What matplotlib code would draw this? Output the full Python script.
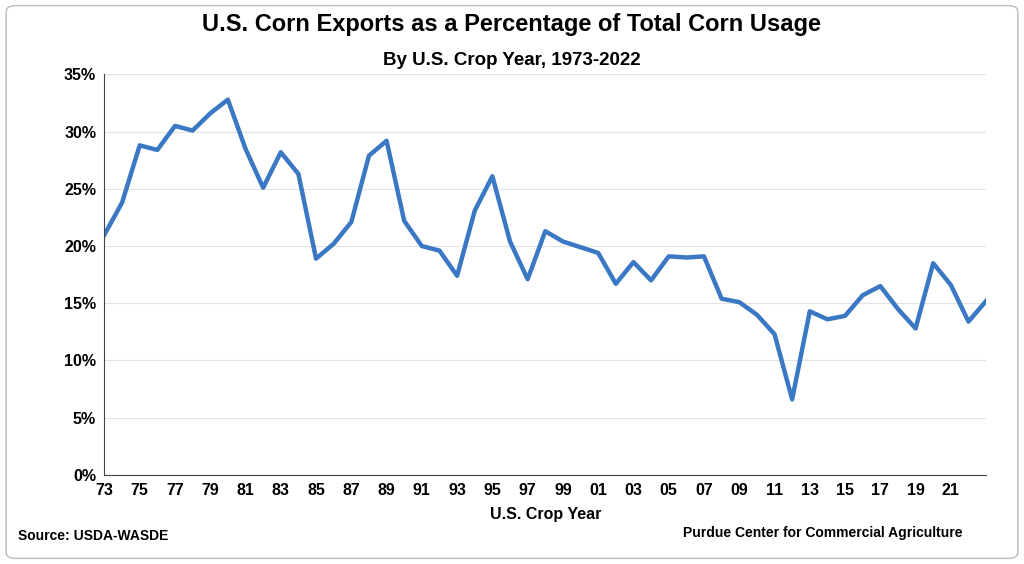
import matplotlib.pyplot as plt
import matplotlib.ticker as mtick
from matplotlib.patches import FancyBboxPatch

#------------------------------------------------------------------------------
#Data

years = list(range(1973, 2024))
export_pct = [21.0, 23.8, 28.8, 28.4, 30.5, 30.1, 31.6, 32.8, 28.5, 25.1,
              28.2, 26.3, 18.9, 20.2, 22.1, 27.9, 29.2, 22.2, 20.0, 19.6,
              17.4, 23.1, 26.1, 20.4, 17.1, 21.3, 20.4, 19.9, 19.4, 16.7,
              18.6, 17.0, 19.1, 19.0, 19.1, 15.4, 15.1, 14.0, 12.3, 6.6,
              14.3, 13.6, 13.9, 15.7, 16.5, 14.5, 12.8, 18.5, 16.6, 13.4,
              15.2]
tick_years = list(range(1973, 2022, 2))
tick_labels = ["%02d" % (y % 100) for y in tick_years]

#------------------------------------------------------------------------------
#Plot

plt.rcParams['font.family'] = ['Liberation Sans', 'DejaVu Sans']
fig = plt.figure(figsize=(10.24, 5.64), dpi=100)
ax = fig.add_axes([0.102, 0.158, 0.861, 0.71])

ax.plot(years, export_pct, color="#3a78c3", lw=3.2, solid_joinstyle="round")
ax.set_xlim(1973, 2023)
ax.set_ylim(0, 35)
ax.set_yticks(range(0, 36, 5))
ax.yaxis.set_major_formatter(mtick.FuncFormatter(lambda v, p: "%d%%" % v))
ax.set_xticks(tick_years)
ax.set_xticklabels(tick_labels)
ax.tick_params(labelsize=11.5, length=0, pad=6)
for lab in ax.get_xticklabels() + ax.get_yticklabels():
    lab.set_fontweight("bold")
ax.grid(axis="y", color="#e3e3e3", lw=0.8)
ax.set_axisbelow(True)
for s in ["top", "right"]:
    ax.spines[s].set_visible(False)
for s in ["left", "bottom"]:
    ax.spines[s].set_color("#444444")
ax.set_xlabel("U.S. Crop Year", fontsize=11.5, fontweight="bold", labelpad=6)

fig.text(0.5, 0.945, "U.S. Corn Exports as a Percentage of Total Corn Usage",
         ha="center", fontsize=17, fontweight="bold")
fig.text(0.5, 0.885, "By U.S. Crop Year, 1973-2022", ha="center",
         fontsize=13.5, fontweight="bold")
fig.text(0.018, 0.042, "Source: USDA-WASDE", fontsize=10, fontweight="bold")
fig.text(0.94, 0.048, "Purdue Center for Commercial Agriculture", ha="right",
         fontsize=10, fontweight="bold")

fig.patches.append(FancyBboxPatch((0.006, 0.01), 0.988, 0.98,
                                  boxstyle="round,pad=0,rounding_size=0.01",
                                  transform=fig.transFigure, fill=False,
                                  ec="#bbbbbb", lw=1))

fig.savefig("out.png", dpi=100)
